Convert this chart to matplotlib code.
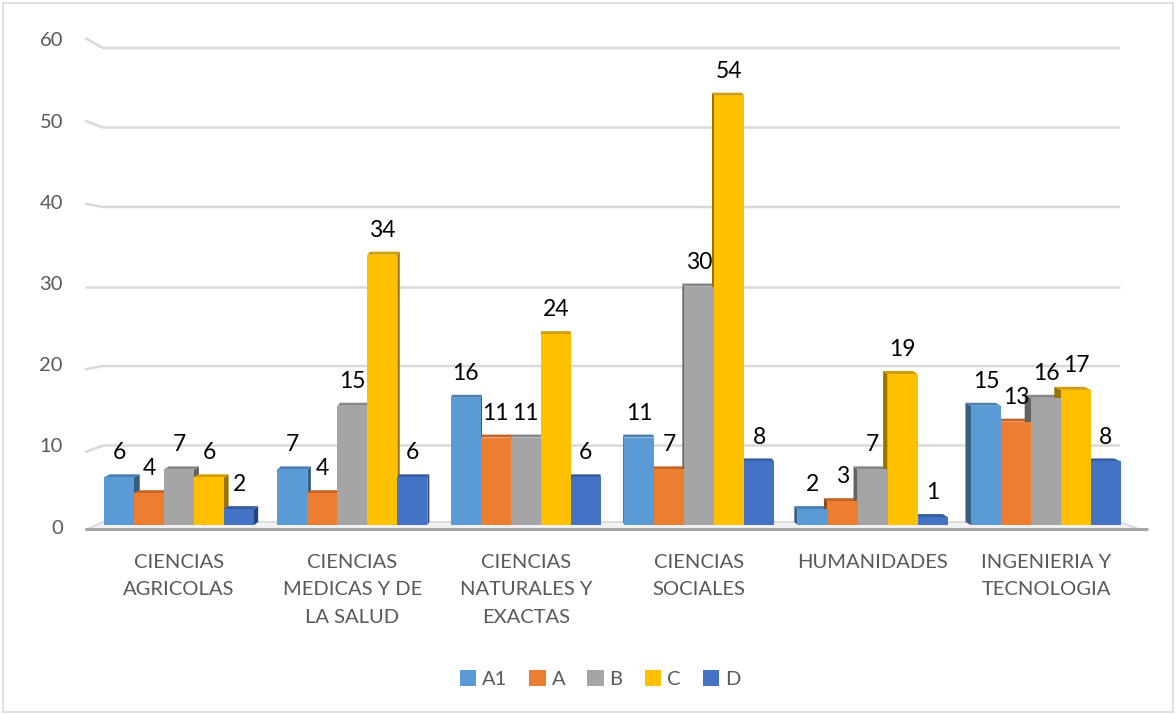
"""
Grupos de investigación por gran área y categoría
Columnas agrupadas con un efecto 3D sencillo (caras laterales y superiores).
"""

import matplotlib
matplotlib.use("Agg")
import matplotlib.pyplot as plt
from matplotlib.patches import Polygon, Rectangle, Patch
from matplotlib.colors import to_rgb

# --- Datos ---
CATEGORIES = [
    "CIENCIAS\nAGRICOLAS",
    "CIENCIAS\nMEDICAS Y DE\nLA SALUD",
    "CIENCIAS\nNATURALES Y\nEXACTAS",
    "CIENCIAS\nSOCIALES",
    "HUMANIDADES",
    "INGENIERIA Y\nTECNOLOGIA",
]
SERIES = ["A1", "A", "B", "C", "D"]
A1 = [6, 7, 16, 11, 2, 15]
A = [4, 4, 11, 7, 3, 13]
B = [7, 15, 11, 30, 7, 16]
C = [6, 34, 24, 54, 19, 17]
D = [2, 6, 6, 8, 1, 8]
Y_TICKS = [0, 10, 20, 30, 40, 50, 60]

COLORS = ["#5B9BD5", "#ED7D31", "#A5A5A5", "#FFC000", "#4472C4"]
GRID = "#D9D9D9"
TICK_TXT = "#595959"
FONT = "Lato"

# --- Geometría (px por unidad de datos) ---
AX_LEFT_PX = 92.3
PX_X = 173.4
PX_Y = 7.95
BAR_W = 30 / PX_X
VANISH_PX = 560      # punto de fuga horizontal de la perspectiva
DEPTH_K = 0.013
DEPTH_UP = 3 / PX_Y


def px_x(px):
    return (px - AX_LEFT_PX) / PX_X


def shade(color, f):
    r, g, b = to_rgb(color)
    return (r * f, g * f, b * f)


def draw_bar(ax, x0, h, color):
    xc_px = AX_LEFT_PX + (x0 + BAR_W / 2) * PX_X
    dx = DEPTH_K * (VANISH_PX - xc_px) / PX_X
    dy = DEPTH_UP
    x1 = x0 + BAR_W
    # cara lateral
    if dx >= 0:
        side = [(x1, 0), (x1 + dx, dy), (x1 + dx, h + dy), (x1, h)]
    else:
        side = [(x0, 0), (x0 + dx, dy), (x0 + dx, h + dy), (x0, h)]
    ax.add_patch(Polygon(side, closed=True, facecolor=shade(color, 0.6),
                         edgecolor="none", zorder=2, clip_on=False))
    # cara superior
    top = [(x0, h), (x1, h), (x1 + dx, h + dy), (x0 + dx, h + dy)]
    ax.add_patch(Polygon(top, closed=True, facecolor=shade(color, 0.82),
                         edgecolor="none", zorder=2, clip_on=False))
    # cara frontal
    ax.add_patch(Rectangle((x0, 0), BAR_W, h, facecolor=color,
                           edgecolor="none", zorder=3, clip_on=False))


def main():
    fig = plt.figure(figsize=(11.76, 7.15), dpi=100)
    ax = fig.add_axes([AX_LEFT_PX / 1176, 190 / 715, 6 * PX_X / 1176, 477 / 715])
    ax.set_xlim(0, 6)
    ax.set_ylim(0, 60)
    ax.axis("off")

    # marco del gráfico
    fig.patches.append(Rectangle((3 / 1176, 3 / 715), 1170 / 1176, 709 / 715,
                                 transform=fig.transFigure, fill=False,
                                 edgecolor=GRID, linewidth=1.2))

    # líneas de división con el tramo de la pared izquierda
    x_wall0, x_wall1, x_end = px_x(85), px_x(103), px_x(1120)
    for v in Y_TICKS[1:]:
        v_left = v + (v - 30) * 0.042
        ax.plot([x_wall0, x_wall1, x_end], [v_left, v, v], color=GRID,
                linewidth=1.8, zorder=1, clip_on=False, solid_capstyle="butt")

    # piso
    floor = [(x_wall1, 0.377), (x_end, 0.377), (px_x(1142), -0.63), (x_wall0, -0.63)]
    ax.add_patch(Polygon(floor, closed=True, facecolor="#F2F2F2",
                         edgecolor="#D0D0D0", linewidth=1, zorder=1, clip_on=False))
    ax.plot([x_wall0, px_x(1148)], [-0.45, -0.45], color="#A6A6A6", linewidth=2.2,
            zorder=1, clip_on=False, solid_capstyle="butt")

    # etiquetas del eje vertical
    for v in Y_TICKS:
        ax.text(px_x(63), -0.38 + v * 1.0214, str(v), ha="right", va="center",
                fontsize=14.5, color=TICK_TXT, family=FONT, clip_on=False)

    # columnas y etiquetas de datos
    data = [A1, A, B, C, D]
    for i in range(len(CATEGORIES)):
        start = i + 0.5 - BAR_W * len(SERIES) / 2
        for j, values in enumerate(data):
            x0 = start + j * BAR_W
            draw_bar(ax, x0, values[i], COLORS[j])
            ax.annotate(str(values[i]), (x0 + BAR_W / 2, values[i]),
                        xytext=(0, 10), textcoords="offset points",
                        ha="center", va="bottom", fontsize=16.5, color="black",
                        family=FONT, zorder=5, annotation_clip=False)

        ax.text(i + 0.5, -3.6, CATEGORIES[i], ha="center", va="top",
                fontsize=14.5, color=TICK_TXT, family=FONT, linespacing=1.75,
                clip_on=False)

    handles = [Patch(facecolor=c, edgecolor="none") for c in COLORS]
    fig.legend(handles, SERIES, loc="center", bbox_to_anchor=(600 / 1176, 36 / 715),
               ncol=5, frameon=False, handlelength=0.8, handleheight=0.85,
               handletextpad=0.3, columnspacing=1.1,
               prop={"family": FONT, "size": 14.5}, labelcolor=TICK_TXT)

    fig.savefig("out.png", dpi=100, facecolor="white")


if __name__ == "__main__":
    main()
